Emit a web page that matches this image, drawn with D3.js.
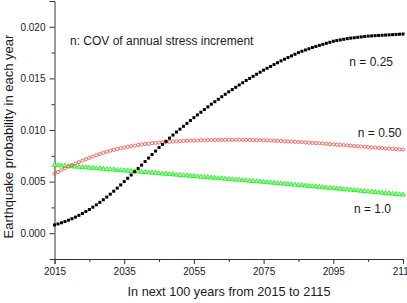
<!DOCTYPE html>
<html>
<head>
<meta charset="utf-8">
<script src="https://cdn.jsdelivr.net/npm/d3@7"></script>
<style>
  body { margin: 0; background: #fff; }
  svg { display: block; overflow: visible; }
  text { font-family: "Liberation Sans", Arial, sans-serif; fill: #1a1a1a; }
</style>
</head>
<body>
<div id="container"></div>
<script>
/* DATA - one value per year, 2015..2115 */
const years = d3.range(2015, 2116)

// n = 0.25 (black squares)
const n025 = [
  .00080, .00090, .00101, .00113, .00126,
  .00140, .00156, .00173, .00191, .00210,
  .00230, .00252, .00275, .00299, .00324,
  .00350, .00378, .00407, .00437, .00468,
  .00500, .00532, .00564, .00596, .00628,
  .00660, .00694, .00728, .00762, .00796,
  .00830, .00861, .00891, .00921, .00951,
  .00980, .01008, .01036, .01064, .01092,
  .01120, .01146, .01172, .01198, .01224,
  .01250, .01274, .01298, .01322, .01346,
  .01370, .01392, .01414, .01436, .01458,
  .01480, .01500, .01520, .01540, .01560,
  .01580, .01598, .01616, .01634, .01652,
  .01670, .01686, .01702, .01718, .01734,
  .01750, .01763, .01775, .01787, .01799,
  .01810, .01820, .01830, .01840, .01850,
  .01860, .01867, .01873, .01879, .01885,
  .01890, .01894, .01898, .01902, .01906,
  .01910, .01912, .01914, .01916, .01918,
  .01920, .01922, .01924, .01926, .01928, .01930
]

// n = 0.50 (red open circles)
const n050 = [
  .00575, .00594, .00612, .00629, .00645,
  .00660, .00675, .00689, .00703, .00717,
  .00730, .00743, .00755, .00767, .00779,
  .00790, .00799, .00807, .00815, .00823,
  .00830, .00837, .00843, .00849, .00855,
  .00860, .00864, .00868, .00872, .00875,
  .00878, .00881, .00884, .00886, .00888,
  .00890, .00892, .00894, .00895, .00897,
  .00898, .00899, .00900, .00901, .00902,
  .00903, .00903, .00904, .00904, .00905,
  .00905, .00905, .00905, .00905, .00904,
  .00904, .00903, .00902, .00902, .00901,
  .00900, .00899, .00897, .00896, .00894,
  .00893, .00891, .00889, .00888, .00886,
  .00884, .00882, .00880, .00877, .00875,
  .00873, .00871, .00868, .00866, .00863,
  .00861, .00858, .00856, .00853, .00851,
  .00848, .00845, .00843, .00840, .00838,
  .00835, .00832, .00830, .00827, .00825,
  .00822, .00820, .00817, .00815, .00812, .00810
]

// n = 1.0 (green triangles)
const n100 = [
  .00660, .00657, .00655, .00652, .00650,
  .00647, .00644, .00642, .00639, .00637,
  .00634, .00631, .00628, .00626, .00623,
  .00620, .00617, .00615, .00612, .00610,
  .00607, .00604, .00602, .00599, .00597,
  .00594, .00591, .00588, .00586, .00583,
  .00580, .00577, .00574, .00572, .00569,
  .00566, .00563, .00560, .00558, .00555,
  .00552, .00549, .00546, .00544, .00541,
  .00538, .00535, .00532, .00530, .00527,
  .00524, .00521, .00518, .00516, .00513,
  .00510, .00507, .00504, .00502, .00499,
  .00496, .00493, .00490, .00487, .00484,
  .00481, .00478, .00475, .00472, .00469,
  .00466, .00463, .00460, .00457, .00454,
  .00451, .00448, .00445, .00441, .00438,
  .00435, .00432, .00429, .00426, .00423,
  .00420, .00417, .00414, .00410, .00407,
  .00404, .00401, .00398, .00394, .00391,
  .00388, .00385, .00382, .00378, .00375, .00372
]

const xTicks = [2015, 2035, 2055, 2075, 2095, 2115]
const xMinor = [2025, 2045, 2065, 2085, 2105]
const yTicks = [0, 0.005, 0.010, 0.015, 0.020]
const yMinor = [-0.0025, 0.0025, 0.0075, 0.0125, 0.0175, 0.0225]

/* CONSTANTS */
const width = 407, height = 303

const svg = d3.select("#container")
  .append("svg")
  .attr("width", width)
  .attr("height", height)

/* SCALES */
const xScale = d3.scaleLinear()
  .domain([2015, 2115])
  .range([54.5, 403])

const yScale = d3.scaleLinear()
  .domain([-0.0025, 0.0225])
  .range([259, 1])

/* AXES */
const xAxis = svg.append("g")
  .attr("transform", "translate(0,259)")
  .call(d3.axisBottom(xScale).tickValues(xTicks).tickFormat(d3.format("d")).tickSize(5).tickPadding(4))
const xAxisMinor = svg.append("g")
  .attr("transform", "translate(0,259)")
  .call(d3.axisBottom(xScale).tickValues(xMinor).tickFormat("").tickSize(3))

const yAxis = svg.append("g")
  .attr("transform", "translate(54.5,0)")
  .call(d3.axisLeft(yScale).tickValues(yTicks).tickFormat(d3.format(".3f")).tickSize(5).tickPadding(4))
const yAxisMinor = svg.append("g")
  .attr("transform", "translate(54.5,0)")
  .call(d3.axisLeft(yScale).tickValues(yMinor).tickFormat("").tickSize(3))

svg.selectAll(".domain, .tick line").attr("stroke", "#333").attr("stroke-width", 1)
svg.selectAll(".tick text").style("font-size", "10px").style("font-family", "Liberation Sans, Arial, sans-serif").attr("fill", "#1a1a1a")
yAxisMinor.select(".domain").remove()
xAxisMinor.select(".domain").remove()

/* MARKS */
// green triangles
svg.append("g")
  .selectAll("path")
  .data(years)
  .enter()
  .append("path")
  .attr("d", d3.symbol().type(d3.symbolTriangle).size(9))
  .attr("transform", (d, i) => `translate(${xScale(d)},${yScale(n100[i])})`)
  .attr("fill", "#b8ffb0")
  .attr("stroke", "#22ee22")
  .attr("stroke-width", 0.9)

// red circles
svg.append("g")
  .selectAll("circle")
  .data(years)
  .enter()
  .append("circle")
  .attr("cx", d => xScale(d))
  .attr("cy", (d, i) => yScale(n050[i]))
  .attr("r", 1.6)
  .attr("fill", "none")
  .attr("stroke", "#f04848")
  .attr("stroke-width", 0.8)

// black squares
svg.append("g")
  .selectAll("rect")
  .data(years)
  .enter()
  .append("rect")
  .attr("x", d => xScale(d) - 1.5)
  .attr("y", (d, i) => yScale(n025[i]) - 1.5)
  .attr("width", 3)
  .attr("height", 3)
  .attr("fill", "#000")

/* TEXT */
svg.append("text")
  .attr("x", 70).attr("y", 45)
  .style("font-size", "12px")
  .text("n: COV of annual stress increment")

svg.append("text")
  .attr("x", 393).attr("y", 66).attr("text-anchor", "end")
  .style("font-size", "12px")
  .text("n = 0.25")

svg.append("text")
  .attr("x", 401.5).attr("y", 137).attr("text-anchor", "end")
  .style("font-size", "12px")
  .text("n = 0.50")

svg.append("text")
  .attr("x", 391).attr("y", 213).attr("text-anchor", "end")
  .style("font-size", "12px")
  .text("n = 1.0")

// axis titles
svg.append("text")
  .attr("x", 229).attr("y", 296).attr("text-anchor", "middle")
  .style("font-size", "12.7px")
  .text("In next 100 years from 2015 to 2115")

svg.append("text")
  .attr("text-anchor", "middle")
  .attr("transform", "translate(12.5,136.5) rotate(-90)")
  .style("font-size", "13px")
  .text("Earthquake probability in each year")
</script>
</body>
</html>
